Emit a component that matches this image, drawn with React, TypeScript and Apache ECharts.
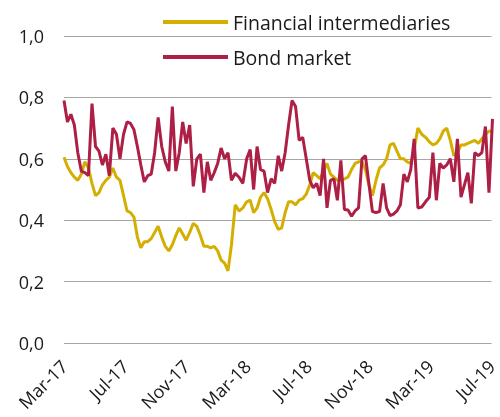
import React, { useEffect, useRef } from "react";
import * as echarts from "echarts";

const seriesNames = ["Financial intermediaries", "Bond market"];
const xLabels = ["Mar-17", "Jul-17", "Nov-17", "Mar-18", "Jul-18", "Nov-18", "Mar-19", "Jul-19"];
const yTicks = [0, 0.2, 0.4, 0.6, 0.8, 1.0];
const startDate = "2017-03-01";

const financialIntermediaries = [
  0.605, 0.575, 0.555, 0.54, 0.53, 0.55, 0.59, 0.57, 0.52, 0.48,
  0.49, 0.515, 0.53, 0.54, 0.57, 0.54, 0.53, 0.48, 0.43, 0.425,
  0.41, 0.345, 0.31, 0.33, 0.33, 0.34, 0.36, 0.38, 0.345, 0.315,
  0.3, 0.32, 0.35, 0.375, 0.355, 0.335, 0.36, 0.39, 0.38, 0.35,
  0.315, 0.315, 0.31, 0.315, 0.3, 0.27, 0.26, 0.235, 0.32, 0.45,
  0.43, 0.44, 0.46, 0.465, 0.425, 0.44, 0.475, 0.49, 0.47, 0.435,
  0.395, 0.37, 0.375, 0.425, 0.46, 0.46, 0.45, 0.465, 0.47, 0.485,
  0.515, 0.555, 0.545, 0.535, 0.56, 0.585, 0.55, 0.54, 0.53, 0.53,
  0.535, 0.54, 0.565, 0.585, 0.59, 0.59, 0.565, 0.515, 0.48, 0.53,
  0.57, 0.58, 0.6, 0.645, 0.65, 0.625, 0.6, 0.6, 0.59, 0.585,
  0.63, 0.7, 0.68, 0.67, 0.655, 0.645, 0.65, 0.665, 0.69, 0.7,
  0.66, 0.61, 0.62, 0.645, 0.645, 0.65, 0.655, 0.66, 0.65, 0.665,
  0.68, 0.69, 0.69,
];

const bondMarket = [
  0.79, 0.72, 0.745, 0.71, 0.62, 0.56, 0.555, 0.545, 0.78, 0.64,
  0.625, 0.58, 0.615, 0.545, 0.7, 0.68, 0.6, 0.68, 0.72, 0.715,
  0.695, 0.64, 0.58, 0.525, 0.545, 0.55, 0.62, 0.735, 0.64, 0.59,
  0.56, 0.77, 0.56, 0.62, 0.72, 0.65, 0.71, 0.51, 0.6, 0.615,
  0.49, 0.59, 0.53, 0.555, 0.585, 0.635, 0.6, 0.62, 0.53, 0.553,
  0.54, 0.52, 0.6, 0.63, 0.5, 0.64, 0.565, 0.56, 0.49, 0.535,
  0.52, 0.61, 0.56, 0.62, 0.71, 0.79, 0.77, 0.66, 0.67, 0.6,
  0.53, 0.505, 0.52, 0.48, 0.6, 0.44, 0.53, 0.535, 0.465, 0.595,
  0.435, 0.433, 0.413, 0.43, 0.44, 0.6, 0.61, 0.52, 0.428, 0.425,
  0.428, 0.52, 0.44, 0.415, 0.42, 0.43, 0.45, 0.55, 0.525, 0.565,
  0.665, 0.44, 0.443, 0.46, 0.475, 0.62, 0.465, 0.585, 0.57, 0.58,
  0.6, 0.525, 0.665, 0.475, 0.515, 0.555, 0.455, 0.62, 0.61, 0.62,
  0.705, 0.49, 0.73,
];

const DAY = 86400000;

function monthPos(t: number): number {
  const d = new Date(t);
  const y = d.getUTCFullYear();
  const m = d.getUTCMonth();
  const dim = new Date(Date.UTC(y, m + 1, 1)).getTime() - Date.UTC(y, m, 1);
  return (y - 2017) * 12 + m - 2 + (d.getUTCDate() - 1) / (dim / DAY);
}

function buildSeries(values: number[]): [number, number][] {
  const t0 = Date.parse(startDate + "T00:00:00Z");
  return values.map((v, i) => [monthPos(t0 + i * 7 * DAY), v]);
}

const FONT = "'Open Sans', 'Noto Sans', sans-serif";

export default function App() {
  const ref = useRef<HTMLDivElement>(null);
  useEffect(() => {
    if (!ref.current) return;
    const chart = echarts.init(ref.current, null, { renderer: "svg" });
    chart.setOption({
      animation: false,
      grid: { left: 64, right: 0, top: 36, bottom: 74, containLabel: false },
      legend: {
        orient: "vertical",
        left: 163,
        top: 12,
        padding: 0,
        itemWidth: 65,
        itemHeight: 4,
        itemGap: 15,
        icon: "rect",
        textStyle: { fontFamily: FONT, fontSize: 19.5, color: "#1a1a1a" },
        data: seriesNames,
      },
      xAxis: {
        type: "value",
        min: 0,
        max: (xLabels.length - 1) * 4,
        interval: 4,
        axisLine: { show: false },
        axisTick: { show: false },
        splitLine: { show: false },
        axisLabel: {
          rotate: 45,
          margin: 20,
          fontFamily: FONT,
          fontSize: 18,
          color: "#1a1a1a",
          showMinLabel: true,
          showMaxLabel: true,
          formatter: (v: number) => xLabels[Math.round(v / 4)] ?? "",
        },
      },
      yAxis: {
        type: "value",
        min: yTicks[0],
        max: yTicks[yTicks.length - 1],
        interval: 0.2,
        axisLine: { show: false },
        axisTick: { show: false },
        splitLine: { lineStyle: { color: "#a6a6a6", width: 1 } },
        axisLabel: {
          margin: 20,
          fontFamily: FONT,
          fontSize: 18,
          color: "#1a1a1a",
          formatter: (v: number) => v.toFixed(1).replace(".", ","),
        },
      },
      series: [
        {
          name: seriesNames[0],
          type: "line",
          data: buildSeries(financialIntermediaries),
          symbol: "none",
          lineStyle: { color: "#d4ae00", width: 3 },
          itemStyle: { color: "#d4ae00" },
        },
        {
          name: seriesNames[1],
          type: "line",
          data: buildSeries(bondMarket),
          symbol: "none",
          lineStyle: { color: "#ad1f45", width: 3 },
          itemStyle: { color: "#ad1f45" },
        },
      ],
    });
    return () => chart.dispose();
  }, []);
  return (
    <div
      ref={ref}
      style={{ position: "fixed", left: 0, top: 0, width: 500, height: 417 }}
    />
  );
}
